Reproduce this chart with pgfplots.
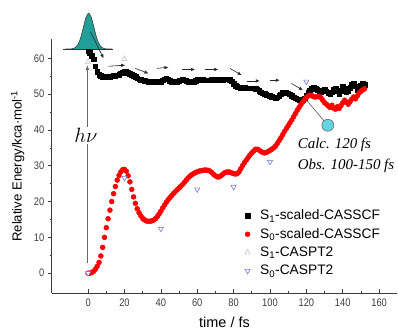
\documentclass[border=0pt]{standalone}
\usepackage{fontspec}
\setmainfont{Liberation Sans}
\newfontfamily\tickfont[FakeStretch=0.85]{Liberation Sans}
\newfontfamily\annfont{Liberation Serif}
\usepackage{pgfplots}
\usepackage{pgfplotstable}
\pgfplotsset{compat=1.18}
\usetikzlibrary{arrows.meta}
\definecolor{gausscol}{RGB}{32,158,152}
\definecolor{circcol}{RGB}{100,212,226}
\definecolor{tricol}{RGB}{120,120,215}
\definecolor{axcol}{RGB}{60,60,60}

\pgfplotstableread{
t v
0 62.0
1 61.5
2 60.8
3 59.8
4 57.8
5 56.2
6 55.5
7 55.1
8 54.9
9 54.8
10 54.8
11 54.8
12 54.9
13 55.0
14 55.1
15 55.2
16 55.3
17 55.5
18 55.8
19 56.0
20 56.2
21 56.2
22 56.0
23 55.7
24 55.4
25 55.1
26 54.8
27 54.5
28 54.2
29 54.0
30 53.9
31 53.7
32 53.6
33 53.5
34 53.5
35 53.4
36 53.4
37 53.4
38 53.4
39 53.4
40 53.5
41 53.9
42 54.2
43 54.4
44 54.2
45 53.8
46 53.5
47 53.4
48 53.4
49 53.5
50 53.7
51 53.9
52 54.0
53 53.9
54 53.7
55 53.5
56 53.4
57 53.4
58 53.5
59 53.8
60 54.0
61 54.1
62 54.1
63 54.0
64 53.9
65 53.9
66 53.9
67 53.9
68 54.0
69 54.0
70 54.0
71 54.1
72 54.1
73 54.1
74 54.1
75 54.2
76 54.2
77 54.2
78 54.1
79 53.6
80 52.9
81 52.3
82 52.0
83 51.9
84 51.8
85 51.8
86 51.8
87 51.7
88 51.7
89 51.7
90 51.7
91 51.7
92 51.6
93 51.4
94 51.0
95 50.6
96 50.3
97 50.1
98 49.9
99 49.7
100 49.5
101 49.3
102 49.1
103 48.9
104 49.1
105 49.5
106 50.0
107 50.4
108 50.6
109 50.6
110 50.3
111 50.0
112 49.6
113 49.2
114 48.9
115 48.6
116 48.4
117 48.3
118 48.4
119 48.9
120 49.6
121 50.4
122 51.1
123 51.6
124 51.8
125 51.6
126 51.2
127 50.8
128 50.6
129 50.9
130 51.3
131 50.8
132 50.4
133 50.2
134 50.6
135 51.4
136 51.6
137 50.9
138 50.2
139 51.0
140 52.0
141 51.6
142 50.5
143 50.9
144 51.8
145 52.6
146 52.9
147 52.2
148 51.3
149 51.4
150 52.4
151 52.9
152 52.6
}\sonedata

\pgfplotstableread{
t v
0 0.0
1 0.0
2 0.2
3 0.5
4 1.1
5 1.9
6 3.0
7 4.8
8 7.2
9 10.0
10 12.7
11 15.2
12 17.6
13 20.0
14 22.2
15 24.2
16 26.0
17 27.3
18 28.3
19 28.9
20 29.0
21 28.5
22 27.2
23 25.5
24 23.4
25 21.3
26 19.5
27 18.0
28 16.9
29 16.0
30 15.3
31 14.9
32 14.6
33 14.5
34 14.5
35 14.6
36 14.8
37 15.2
38 15.8
39 16.5
40 17.3
41 18.2
42 19.0
43 19.8
44 20.5
45 21.1
46 21.7
47 22.3
48 22.8
49 23.3
50 23.8
51 24.3
52 24.8
53 25.4
54 26.0
55 26.6
56 27.1
57 27.5
58 27.8
59 28.1
60 28.3
61 28.5
62 28.6
63 28.7
64 28.8
65 28.8
66 28.7
67 28.5
68 28.1
69 27.6
70 27.2
71 26.9
72 26.9
73 27.2
74 27.6
75 28.0
76 28.2
77 28.3
78 28.2
79 28.0
80 27.8
81 27.7
82 27.8
83 28.3
84 29.2
85 30.1
86 30.9
87 31.6
88 32.3
89 33.0
90 33.6
91 34.1
92 34.6
93 34.6
94 34.4
95 34.0
96 33.7
97 33.6
98 33.7
99 34.0
100 34.3
101 34.6
102 35.0
103 35.5
104 36.2
105 37.0
106 37.8
107 38.7
108 39.6
109 40.4
110 41.2
111 42.0
112 42.8
113 43.7
114 44.6
115 45.5
116 46.3
117 47.1
118 47.8
119 48.5
120 49.1
121 49.5
122 49.7
123 49.6
124 49.3
125 49.2
126 49.3
127 49.4
128 49.0
129 48.3
130 47.6
131 47.2
132 46.7
133 46.3
134 46.9
135 46.1
136 45.8
137 46.5
138 46.0
139 46.8
140 47.6
141 48.3
142 47.8
143 47.2
144 47.9
145 48.6
146 49.2
147 48.7
148 49.5
149 50.3
150 50.8
151 51.2
152 51.5
}\szerodata

\begin{document}
\begin{tikzpicture}
\begin{axis}[
  scale only axis,
  width=345.3bp, height=254bp,
  xmin=-20, xmax=170, ymin=-5.6, ymax=65.4,
  axis x line*=bottom, axis y line*=left,
  axis line style={axcol, line width=0.8bp, -},
  xtick={0,20,...,160}, ytick={0,10,...,60},
  minor x tick num=1, minor y tick num=1,
  tick align=inside,
  major tick length=4bp, minor tick length=2.2bp,
  tick style={axcol, line width=0.7bp},
  major y tick style={xshift=-4bp},
  minor y tick style={xshift=-2.2bp},
  /pgf/number format/assume math mode=true,
  ticklabel style={font=\tickfont\fontsize{11}{13}\selectfont, text=axcol},
  yticklabel style={xshift=-4bp},
  xticklabel style={yshift=-2bp},
  xlabel={time / fs},
  ylabel={Relative Energy/kca·mol\textsuperscript{-1}},
  xlabel style={font=\fontsize{14.5}{16}\selectfont, at={(axis description cs:0.5,0)}, anchor=center, yshift=-29bp},
  ylabel style={font=\fontsize{13.2}{15}\selectfont, at={(axis description cs:-0.0985,0.5)}, anchor=center},
  clip=false,
  legend cell align=left,
  legend style={draw=none, fill=none, at={(rel axis cs:0.55,0.344)}, anchor=north west,
    font=\fontsize{13.8}{15}\selectfont, row sep=3.1bp,
    /tikz/every odd column/.append style={column sep=8bp}},
]
\addplot[only marks, mark=square*, mark size=2.3bp, mark options={fill=black, draw=black}] table[x=t,y=v] {\sonedata};
\addlegendentry{S\textsubscript{1}-scaled-CASSCF}
\addplot[only marks, mark=*, mark size=2.5bp, mark options={fill=red, draw=red}] table[x=t,y=v] {\szerodata};
\addlegendentry{S\textsubscript{0}-scaled-CASSCF}
\addplot[only marks, mark=triangle*, mark size=3bp, mark options={fill=white, draw=gray!45, line width=0.6bp}] coordinates {(0,59.0) (20,59.8)};
\addlegendentry{S\textsubscript{1}-CASPT2}
\addplot[only marks, mark=triangle*, mark size=3bp, mark options={rotate=180, fill=white, draw=tricol, line width=0.6bp}] coordinates {(0,0) (20,26.6) (40,12.4) (60,23.4) (80,24.1) (100,31.1) (120,53.5)};
\addlegendentry{S\textsubscript{0}-CASPT2}

% Gaussian pump pulse
\fill[gausscol] (axis cs:-12.5,62.6) -- plot[smooth] coordinates {(axis cs:-12.5,62.6) (axis cs:-9.0,62.66) (axis cs:-7.0,63.02) (axis cs:-6.0,63.54) (axis cs:-5.0,64.48) (axis cs:-4.0,65.93) (axis cs:-3.0,67.84) (axis cs:-2.0,69.90) (axis cs:-1.0,71.64) (axis cs:0.3,72.6) (axis cs:1.6,71.64) (axis cs:2.6,69.90) (axis cs:3.6,67.84) (axis cs:4.6,65.93) (axis cs:5.6,64.48) (axis cs:6.6,63.54) (axis cs:7.6,63.02) (axis cs:9.6,62.66) (axis cs:13.0,62.6)} -- cycle;
\draw[black!75, line width=0.6bp] plot[smooth] coordinates {(axis cs:-12.5,62.6) (axis cs:-9.0,62.66) (axis cs:-7.0,63.02) (axis cs:-6.0,63.54) (axis cs:-5.0,64.48) (axis cs:-4.0,65.93) (axis cs:-3.0,67.84) (axis cs:-2.0,69.90) (axis cs:-1.0,71.64) (axis cs:0.3,72.6) (axis cs:1.6,71.64) (axis cs:2.6,69.90) (axis cs:3.6,67.84) (axis cs:4.6,65.93) (axis cs:5.6,64.48) (axis cs:6.6,63.54) (axis cs:7.6,63.02) (axis cs:9.6,62.66) (axis cs:13.0,62.6)};
\draw[black!80, line width=0.7bp] (axis cs:-14,62.6) -- (axis cs:13.5,62.6);

% h nu arrow
\draw[gray!80!black, line width=0.8bp, -{Latex[length=5bp,width=4bp]}] (axis cs:-0.4,2.8) -- (axis cs:-0.4,58.1);
\node[fill=white, inner sep=1bp, font=\fontsize{21}{21}\selectfont] at (axis cs:-1.2,38.5) {$h\nu$};

% path arrows
\begin{scope}[black!85, line width=0.6bp, -{Latex[length=4bp,width=3.5bp]}]
\draw (axis cs:1.3,67.4) -- (axis cs:8.5,60.0);
\draw (axis cs:11.3,57.8) -- (axis cs:20.4,58.1);
\draw (axis cs:25.9,57.2) -- (axis cs:33.2,55.8);
\draw (axis cs:37.8,57.2) -- (axis cs:44.2,57.5);
\draw (axis cs:51.5,56.9) -- (axis cs:58.8,56.9);
\draw (axis cs:64.3,56.9) -- (axis cs:71.6,56.9);
\draw (axis cs:78.0,57.2) -- (axis cs:84.4,55.3);
\draw (axis cs:87.1,53.7) -- (axis cs:94.4,53.7);
\draw (axis cs:99.9,53.9) -- (axis cs:105.4,53.9);
\draw (axis cs:111.8,53.0) -- (axis cs:118.1,51.1);
\end{scope}

% crossing marker
\draw[gray!70!black, line width=0.6bp] (axis cs:119.6,48.6) -- (axis cs:131.8,41.3);
\draw[fill=circcol, draw=gray!70!black, line width=0.5bp] (axis cs:131.8,41.3) circle[radius=6bp];
\node[anchor=west, inner sep=0pt, font=\annfont\itshape\fontsize{15}{17}\selectfont] at (axis cs:115.2,35.8) {Calc. 120 fs};
\node[anchor=west, inner sep=0pt, font=\annfont\itshape\fontsize{15}{17}\selectfont] at (axis cs:115.2,29.9) {Obs. 100-150 fs};
\end{axis}
\path (current axis.south west) ++(-51.7bp,-37bp) coordinate (bbA);
\path (current axis.north east) ++(0.7bp,39bp) coordinate (bbB);
\path (bbA) rectangle (bbB);
\end{tikzpicture}
\end{document}
